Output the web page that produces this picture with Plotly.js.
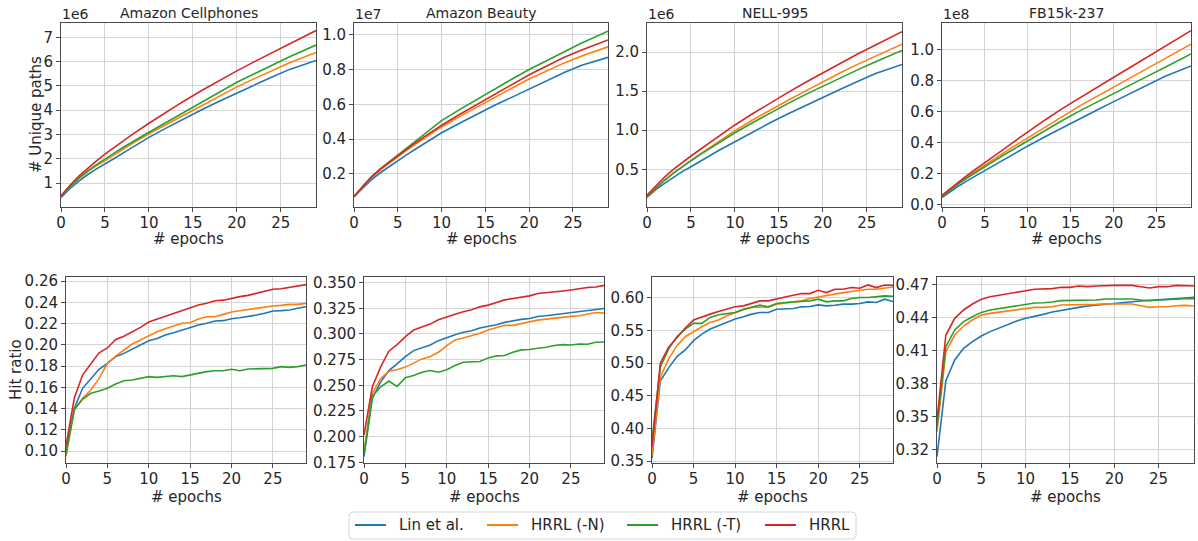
<!DOCTYPE html>
<html><head><meta charset="utf-8">
<script src="https://cdn.plot.ly/plotly-3.0.1.min.js"></script>
<style>html,body{margin:0;padding:0;background:#fff}#chart{width:1198px;height:541px}</style>
</head><body><div id="chart"></div>
<script>
const seriesNames = ['Lin et al.', 'HRRL (-N)', 'HRRL (-T)', 'HRRL'];
const seriesColors = ['#1f77b4', '#ff7f0e', '#2ca02c', '#d62728'];
const datasetTitles = ['Amazon Cellphones', 'Amazon Beauty', 'NELL-995', 'FB15k-237'];
const pathScaleLabels = ['1e6', '1e7', '1e6', '1e8'];

const topEpochs = [0, 1, 2, 3, 4, 5, 6, 7, 8, 10, 12, 14, 16, 18, 20, 22, 24, 26, 29];
const hitEpochs = [0,1,2,3,4,5,6,7,8,9,10,11,12,13,14,15,16,17,18,19,20,21,22,23,24,25,26,27,28,29];

// # Unique paths (in units of the scale label)
const cellPathsLin = [0.40,0.77,1.07,1.34,1.57,1.77,2.00,2.22,2.44,2.88,3.27,3.65,4.02,4.37,4.71,5.04,5.37,5.68,6.05];
const cellPathsN   = [0.45,0.84,1.17,1.46,1.71,1.91,2.15,2.38,2.60,3.03,3.43,3.80,4.18,4.57,4.96,5.30,5.63,5.95,6.38];
const cellPathsT   = [0.45,0.85,1.19,1.49,1.75,1.97,2.22,2.45,2.67,3.09,3.50,3.92,4.32,4.74,5.15,5.50,5.85,6.20,6.68];
const cellPathsH   = [0.48,0.90,1.27,1.60,1.90,2.19,2.46,2.72,2.97,3.46,3.93,4.38,4.81,5.23,5.62,6.00,6.37,6.73,7.28];

const beautyPathsLin = [0.07,0.120,0.167,0.207,0.243,0.277,0.310,0.342,0.374,0.437,0.490,0.543,0.593,0.640,0.687,0.735,0.783,0.825,0.870];
const beautyPathsN   = [0.07,0.128,0.180,0.224,0.263,0.300,0.336,0.370,0.404,0.470,0.528,0.584,0.638,0.692,0.745,0.790,0.838,0.877,0.930];
const beautyPathsT   = [0.07,0.130,0.185,0.230,0.270,0.310,0.350,0.390,0.430,0.506,0.568,0.628,0.687,0.744,0.800,0.852,0.903,0.952,1.020];
const beautyPathsH   = [0.07,0.130,0.183,0.228,0.267,0.305,0.342,0.378,0.413,0.480,0.540,0.597,0.654,0.713,0.770,0.820,0.870,0.912,0.970];

const nellPathsLin = [0.14,0.24,0.32,0.40,0.47,0.533,0.60,0.665,0.73,0.853,0.975,1.095,1.207,1.315,1.42,1.525,1.627,1.725,1.84];
const nellPathsN   = [0.15,0.26,0.36,0.45,0.535,0.61,0.69,0.765,0.84,0.994,1.13,1.257,1.38,1.50,1.62,1.735,1.845,1.95,2.10];
const nellPathsT   = [0.15,0.26,0.36,0.45,0.535,0.61,0.685,0.755,0.825,0.968,1.095,1.22,1.34,1.455,1.565,1.67,1.775,1.875,2.02];
const nellPathsH   = [0.17,0.29,0.40,0.50,0.59,0.67,0.75,0.83,0.91,1.067,1.21,1.35,1.48,1.61,1.735,1.86,1.977,2.09,2.26];

const fbPathsLin = [0.045,0.085,0.122,0.156,0.188,0.219,0.251,0.283,0.315,0.378,0.437,0.495,0.552,0.608,0.663,0.717,0.772,0.826,0.893];
const fbPathsN   = [0.055,0.100,0.143,0.183,0.220,0.256,0.292,0.327,0.362,0.431,0.500,0.569,0.634,0.695,0.756,0.818,0.879,0.940,1.033];
const fbPathsT   = [0.050,0.095,0.137,0.175,0.211,0.245,0.279,0.313,0.346,0.412,0.477,0.542,0.602,0.660,0.717,0.773,0.829,0.884,0.970];
const fbPathsH   = [0.060,0.105,0.150,0.192,0.232,0.270,0.310,0.350,0.390,0.470,0.545,0.618,0.687,0.754,0.820,0.886,0.952,1.017,1.120];

// Hit ratio
const cellHitLin = [0.100,0.140,0.159,0.1684,0.1769,0.1825,0.1888,0.1919,0.1957,0.1998,0.2038,0.2060,0.2092,0.2114,0.2139,0.2164,0.2186,0.2202,0.2224,0.2227,0.2245,0.2255,0.2264,0.2280,0.2296,0.2318,0.2321,0.2327,0.2343,0.2358];
const cellHitN   = [0.095,0.1386,0.1496,0.1574,0.1684,0.1825,0.1894,0.1950,0.2007,0.2045,0.2082,0.2123,0.2151,0.2176,0.2202,0.2208,0.2242,0.2264,0.2264,0.2286,0.2308,0.2321,0.2333,0.2340,0.2352,0.2365,0.2371,0.2380,0.2380,0.2390];
const cellHitT   = [0.097,0.1390,0.1486,0.1543,0.1565,0.1590,0.1631,0.1662,0.1668,0.1684,0.1700,0.1693,0.1700,0.1709,0.1700,0.1715,0.1737,0.1747,0.1756,0.1756,0.1769,0.1756,0.1772,0.1772,0.1772,0.1778,0.1794,0.1787,0.1794,0.1810];
const cellHitH   = [0.105,0.1496,0.1715,0.1825,0.1925,0.1970,0.2050,0.2080,0.2120,0.2164,0.2214,0.2240,0.2270,0.2296,0.2318,0.2350,0.2374,0.2390,0.2415,0.2420,0.2440,0.2453,0.2465,0.2484,0.2503,0.2522,0.2528,0.2540,0.2556,0.2566];

const beautyHitLin = [0.1805,0.2370,0.2531,0.2644,0.2709,0.2780,0.2838,0.2864,0.2893,0.2935,0.2967,0.2993,0.3016,0.3032,0.3058,0.3071,0.3090,0.3113,0.3129,0.3142,0.3151,0.3171,0.3177,0.3187,0.3200,0.3206,0.3219,0.3232,0.3235,0.3248];
const beautyHitN   = [0.1853,0.2418,0.2564,0.2638,0.2651,0.2677,0.2716,0.2757,0.2780,0.2822,0.2887,0.2941,0.2961,0.2983,0.3006,0.3038,0.3058,0.3084,0.3084,0.3103,0.3122,0.3135,0.3145,0.3155,0.3161,0.3171,0.3177,0.3193,0.3209,0.3203];
const beautyHitT   = [0.1830,0.2393,0.2483,0.2541,0.2489,0.2573,0.2596,0.2628,0.2644,0.2628,0.2651,0.2693,0.2725,0.2732,0.2732,0.2767,0.2787,0.2790,0.2822,0.2845,0.2848,0.2861,0.2870,0.2887,0.2896,0.2893,0.2903,0.2900,0.2919,0.2922];
const beautyHitH   = [0.2015,0.2483,0.2677,0.2832,0.2896,0.2974,0.3038,0.3064,0.3096,0.3138,0.3168,0.3193,0.3216,0.3235,0.3264,0.3281,0.3306,0.3332,0.3345,0.3355,0.3371,0.3394,0.3400,0.3406,0.3419,0.3429,0.3442,0.3452,0.3458,0.3474];

const nellHitLin = [0.354,0.4725,0.4928,0.5100,0.5202,0.5344,0.5446,0.5522,0.5573,0.5624,0.5675,0.5710,0.5751,0.5776,0.5776,0.5827,0.5827,0.5837,0.5863,0.5868,0.5893,0.5878,0.5888,0.5904,0.5904,0.5914,0.5939,0.5929,0.5980,0.5944];
const nellHitN   = [0.359,0.4786,0.5065,0.5268,0.5405,0.5487,0.5558,0.5624,0.5660,0.5726,0.5776,0.5817,0.5853,0.5863,0.5863,0.5904,0.5919,0.5929,0.5954,0.5990,0.6015,0.6041,0.6066,0.6081,0.6097,0.6117,0.6132,0.6132,0.6147,0.6168];
const nellHitT   = [0.382,0.4938,0.5218,0.5405,0.5522,0.5609,0.5609,0.5700,0.5741,0.5761,0.5776,0.5827,0.5863,0.5888,0.5863,0.5914,0.5929,0.5939,0.5939,0.5954,0.5980,0.5939,0.5954,0.5954,0.5990,0.6005,0.6005,0.6015,0.6031,0.6026];
const nellHitH   = [0.372,0.4999,0.5243,0.5385,0.5538,0.5660,0.5710,0.5751,0.5792,0.5827,0.5863,0.5878,0.5919,0.5954,0.5954,0.5990,0.6015,0.6041,0.6066,0.6066,0.6117,0.6081,0.6132,0.6132,0.6158,0.6147,0.6198,0.6158,0.6198,0.6193];

const fbHitLin = [0.3133,0.3824,0.4012,0.4118,0.4179,0.4230,0.4270,0.4303,0.4339,0.4367,0.4391,0.4406,0.4427,0.4448,0.4464,0.4476,0.4491,0.4503,0.4512,0.4518,0.4530,0.4536,0.4542,0.4548,0.4555,0.4558,0.4564,0.4570,0.4576,0.4582];
const fbHitN   = [0.3360,0.4088,0.4239,0.4321,0.4376,0.4421,0.4436,0.4448,0.4461,0.4473,0.4482,0.4491,0.4491,0.4497,0.4512,0.4512,0.4518,0.4512,0.4518,0.4524,0.4524,0.4524,0.4521,0.4506,0.4491,0.4497,0.4497,0.4506,0.4509,0.4503];
const fbHitT   = [0.3406,0.4133,0.4285,0.4361,0.4406,0.4445,0.4467,0.4479,0.4497,0.4509,0.4521,0.4530,0.4533,0.4539,0.4552,0.4552,0.4558,0.4552,0.4558,0.4567,0.4567,0.4567,0.4567,0.4558,0.4552,0.4558,0.4564,0.4567,0.4570,0.4570];
const fbHitH   = [0.3467,0.4239,0.4391,0.4467,0.4521,0.4564,0.4588,0.4600,0.4618,0.4630,0.4642,0.4655,0.4655,0.4661,0.4673,0.4673,0.4685,0.4679,0.4685,0.4691,0.4691,0.4691,0.4691,0.4679,0.4667,0.4679,0.4679,0.4691,0.4691,0.4685];

const pathSeries = [
  [cellPathsLin, cellPathsN, cellPathsT, cellPathsH],
  [beautyPathsLin, beautyPathsN, beautyPathsT, beautyPathsH],
  [nellPathsLin, nellPathsN, nellPathsT, nellPathsH],
  [fbPathsLin, fbPathsN, fbPathsT, fbPathsH]
];
const hitSeries = [
  [cellHitLin, cellHitN, cellHitT, cellHitH],
  [beautyHitLin, beautyHitN, beautyHitT, beautyHitH],
  [nellHitLin, nellHitN, nellHitT, nellHitH],
  [fbHitLin, fbHitN, fbHitT, fbHitH]
];

// ----- layout geometry (pixels) -----
const W = 1198, H = 541;
const topBoxes = [[61,316],[354,608],[647,902],[942,1191]];
const topY = [23,207];
const botBoxes = [[66,306],[364,604],[652,893],[937,1194]];
const botY = [277,463];
const topRanges = [[0.012,7.59],[0.0103,1.067],[0.018,2.371],[-0.015,1.169]];
const topDtick = [1,0.2,0.5,0.2];
const topFmt = ['d','.1f','.1f','.1f'];
const botRanges = [[0.0887,0.2638],[0.1743,0.3555],[0.347,0.632],[0.3075,0.4767]];
const botDtick = [0.02,0.025,0.05,0.03];
const botTick0 = [0,0,0,0.32];
const botFmt = ['.2f','.3f','.2f','.2f'];
// legend geometry (pixels)
const legendBox = [349, 512, 856, 539];
const legendSampleX = [355, 487, 627, 765];
const legendSampleLen = 31;
const legendTextGap = 11;
const legendMidY = 525;

const FONT = 'DejaVu Sans, Verdana, sans-serif';
const TXT = '#262626';
const px = v => v / W;
const py = v => 1 - v / H;
const axisBase = {
  showline: true, mirror: true, linecolor: '#4a4a4a', linewidth: 1,
  showgrid: true, gridcolor: '#d4d4d4', gridwidth: 1,
  ticks: 'outside', ticklen: 4, tickcolor: '#4a4a4a', tickwidth: 1,
  zeroline: false, tickfont: {family: FONT, size: 15, color: TXT}, fixedrange: true
};

const traces = [];
const layout = {
  width: W, height: H, margin: {l:0, r:0, t:0, b:0},
  paper_bgcolor: '#fff', plot_bgcolor: '#fff',
  font: {family: FONT, size: 15, color: TXT},
  showlegend: false,
  annotations: [], shapes: []
};

function addPanel(idx, box, yb, range, dtick, tick0, fmt, xs, series, titleOffset) {
  const n = idx + 1;
  const xk = 'xaxis' + (n === 1 ? '' : n), yk = 'yaxis' + (n === 1 ? '' : n);
  const xr = 'x' + (n === 1 ? '' : n), yr = 'y' + (n === 1 ? '' : n);
  layout[xk] = Object.assign({}, axisBase, {
    domain: [px(box[0]), px(box[1])], range: [0, 29], tickmode: 'linear', tick0: 0, dtick: 5, anchor: yr,
    ticklabelstandoff: -2
  });
  layout[yk] = Object.assign({}, axisBase, {
    domain: [py(yb[1]), py(yb[0])], range: range, tickmode: 'linear', tick0: tick0, dtick: dtick,
    tickformat: fmt, anchor: xr
  });
  series.forEach((ys, k) => {
    traces.push({
      type: 'scatter', mode: 'lines', x: xs, y: ys, xaxis: xr, yaxis: yr,
      name: seriesNames[k], showlegend: false,
      line: {color: seriesColors[k], width: 1.6}, hoverinfo: 'skip'
    });
  });
  layout.annotations.push({
    xref: 'paper', yref: 'paper', x: px((box[0]+box[1])/2), y: py(yb[1] + titleOffset),
    xanchor: 'center', yanchor: 'middle', showarrow: false, text: '# epochs',
    font: {family: FONT, size: 15, color: TXT}
  });
}

for (let i = 0; i < 4; i++) {
  addPanel(i, topBoxes[i], topY, topRanges[i], topDtick[i], 0, topFmt[i], topEpochs, pathSeries[i], 32);
  layout.annotations.push({
    xref: 'paper', yref: 'paper', x: px((topBoxes[i][0]+topBoxes[i][1])/2), y: py(13),
    xanchor: 'center', yanchor: 'middle', showarrow: false, text: datasetTitles[i],
    font: {family: FONT, size: 14, color: TXT}
  });
  layout.annotations.push({
    xref: 'paper', yref: 'paper', x: px(topBoxes[i][0] - 1), y: py(14),
    xanchor: 'left', yanchor: 'middle', showarrow: false, text: pathScaleLabels[i],
    font: {family: FONT, size: 14, color: TXT}
  });
}
for (let i = 0; i < 4; i++) {
  addPanel(i + 4, botBoxes[i], botY, botRanges[i], botDtick[i], botTick0[i], botFmt[i], hitEpochs, hitSeries[i], 34);
}
layout.annotations.push({
  xref: 'paper', yref: 'paper', x: px(36), y: py(115), textangle: -90,
  xanchor: 'center', yanchor: 'middle', showarrow: false, text: '# Unique paths',
  font: {family: FONT, size: 15, color: TXT}
});
layout.annotations.push({
  xref: 'paper', yref: 'paper', x: px(16), y: py(370), textangle: -90,
  xanchor: 'center', yanchor: 'middle', showarrow: false, text: 'Hit ratio',
  font: {family: FONT, size: 15, color: TXT}
});

// legend (drawn from the series names and colours)
(function () {
  const [l, t, r, b] = legendBox, rad = 4;
  const P = (x, y) => px(x) + ',' + py(y);
  const path = 'M' + P(l + rad, t) + ' L' + P(r - rad, t) + ' Q' + P(r, t) + ' ' + P(r, t + rad) +
    ' L' + P(r, b - rad) + ' Q' + P(r, b) + ' ' + P(r - rad, b) + ' L' + P(l + rad, b) +
    ' Q' + P(l, b) + ' ' + P(l, b - rad) + ' L' + P(l, t + rad) + ' Q' + P(l, t) + ' ' + P(l + rad, t) + ' Z';
  layout.shapes.push({type: 'path', xref: 'paper', yref: 'paper', path: path,
    line: {color: '#d6d6d6', width: 1}, fillcolor: 'rgba(255,255,255,0.8)'});
  seriesNames.forEach((name, k) => {
    const x0 = legendSampleX[k];
    layout.shapes.push({type: 'line', xref: 'paper', yref: 'paper',
      x0: px(x0), x1: px(x0 + legendSampleLen), y0: py(legendMidY), y1: py(legendMidY),
      line: {color: seriesColors[k], width: 2}});
    layout.annotations.push({xref: 'paper', yref: 'paper', x: px(x0 + legendSampleLen + legendTextGap),
      y: py(legendMidY), xanchor: 'left', yanchor: 'middle', showarrow: false, text: name,
      font: {family: FONT, size: 15, color: TXT}});
  });
})();

Plotly.newPlot('chart', traces, layout, {displayModeBar: false, staticPlot: true});
</script></body></html>
